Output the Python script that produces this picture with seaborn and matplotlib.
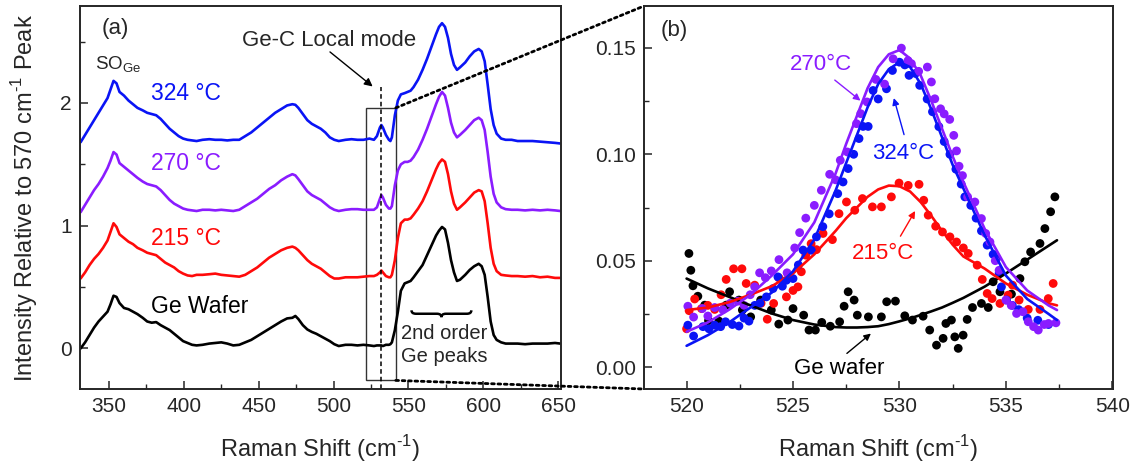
import matplotlib
matplotlib.use("Agg")
import matplotlib.pyplot as plt
import pandas as pd
import seaborn as sns
from matplotlib.patches import Rectangle, ConnectionPatch, PathPatch
from matplotlib.path import Path
from matplotlib.ticker import MultipleLocator, FormatStrFormatter

# ---------------- panel (a): full Raman spectra ----------------
shift_a = [331, 334, 337, 340, 343, 346, 349, 351, 353, 355,
           357, 360, 363, 366, 369, 372.5, 375.5, 378.5, 381.5, 384.5,
           387.5, 390.5, 393.5, 396.5, 399.5, 402.5, 405.5, 408.5, 412.5, 417,
           421, 425, 429, 433, 437, 441, 445, 449, 453, 457,
           461, 465, 469, 472.5, 474.5, 476.5, 479.5, 482.5, 485.5, 488.5,
           491.5, 494.5, 497.5, 500.5, 503.5, 508, 512, 516, 520, 524,
           527, 529, 531, 532, 533, 535, 537, 538, 539, 541,
           543, 545, 547.5, 549.5, 551.5, 553.5, 556.5, 559.5, 562.5, 565.5,
           568.5, 570.5, 572.5, 574.5, 576.5, 578.5, 580.5, 582.5, 584.5, 588,
           591, 594, 597, 599, 601, 603, 605, 607, 609, 612,
           615, 619, 623, 628, 633, 638, 643, 648, 651.5]

wafer_a = [0.00, 0.05, 0.11, 0.17, 0.22, 0.26, 0.30, 0.36, 0.43, 0.42,
           0.37, 0.33, 0.32, 0.30, 0.28, 0.25, 0.22, 0.21, 0.215, 0.19,
           0.17, 0.15, 0.12, 0.09, 0.06, 0.045, 0.03, 0.025, 0.03, 0.04,
           0.045, 0.05, 0.04, 0.025, 0.03, 0.05, 0.07, 0.10, 0.13, 0.16,
           0.19, 0.22, 0.245, 0.25, 0.265, 0.24, 0.19, 0.155, 0.135, 0.12,
           0.10, 0.08, 0.06, 0.035, 0.02, 0.03, 0.03, 0.025, 0.03, 0.025,
           0.02, 0.025, 0.025, 0.025, 0.02, 0.03, 0.03, 0.035, 0.05, 0.15,
           0.30, 0.47, 0.53, 0.54, 0.55, 0.58, 0.63, 0.68, 0.76, 0.84,
           0.92, 0.96, 0.99, 0.97, 0.86, 0.72, 0.62, 0.55, 0.56, 0.60,
           0.64, 0.67, 0.69, 0.67, 0.60, 0.42, 0.22, 0.11, 0.07, 0.05,
           0.04, 0.04, 0.04, 0.035, 0.04, 0.04, 0.04, 0.045, 0.04]

t215_a = [0.57, 0.62, 0.68, 0.73, 0.77, 0.82, 0.88, 0.95, 1.02, 0.99,
          0.93, 0.90, 0.87, 0.85, 0.82, 0.80, 0.78, 0.77, 0.76, 0.73,
          0.70, 0.68, 0.66, 0.63, 0.61, 0.595, 0.59, 0.60, 0.60, 0.605,
          0.61, 0.60, 0.595, 0.59, 0.585, 0.60, 0.63, 0.66, 0.70, 0.74,
          0.77, 0.80, 0.82, 0.83, 0.82, 0.80, 0.76, 0.72, 0.69, 0.67,
          0.65, 0.62, 0.59, 0.57, 0.57, 0.58, 0.58, 0.58, 0.585, 0.59,
          0.59, 0.60, 0.62, 0.635, 0.62, 0.59, 0.58, 0.58, 0.60, 0.72,
          0.90, 1.02, 1.05, 1.05, 1.06, 1.09, 1.14, 1.20, 1.28, 1.37,
          1.46, 1.51, 1.54, 1.52, 1.42, 1.28, 1.18, 1.13, 1.15, 1.19,
          1.23, 1.27, 1.29, 1.28, 1.20, 1.02, 0.82, 0.69, 0.63, 0.60,
          0.595, 0.59, 0.59, 0.585, 0.59, 0.58, 0.585, 0.575, 0.575]

t270_a = [1.11, 1.17, 1.23, 1.29, 1.34, 1.40, 1.47, 1.53, 1.60, 1.58,
          1.51, 1.48, 1.45, 1.42, 1.39, 1.36, 1.34, 1.33, 1.32, 1.29,
          1.25, 1.21, 1.18, 1.16, 1.14, 1.13, 1.125, 1.12, 1.13, 1.13,
          1.125, 1.13, 1.125, 1.12, 1.13, 1.16, 1.19, 1.22, 1.26, 1.30,
          1.33, 1.37, 1.40, 1.42, 1.41, 1.38, 1.33, 1.28, 1.25, 1.23,
          1.21, 1.18, 1.15, 1.13, 1.12, 1.13, 1.135, 1.135, 1.13, 1.13,
          1.13, 1.15, 1.22, 1.25, 1.23, 1.17, 1.14, 1.14, 1.16, 1.33,
          1.45, 1.50, 1.52, 1.52, 1.53, 1.56, 1.62, 1.70, 1.79, 1.89,
          1.99, 2.05, 2.09, 2.06, 1.96, 1.84, 1.76, 1.72, 1.74, 1.78,
          1.82, 1.86, 1.88, 1.86, 1.78, 1.60, 1.40, 1.26, 1.19, 1.15,
          1.135, 1.13, 1.13, 1.125, 1.13, 1.125, 1.13, 1.125, 1.12]

t324_a = [1.68, 1.74, 1.80, 1.86, 1.92, 1.98, 2.04, 2.11, 2.18, 2.16,
          2.09, 2.06, 2.02, 1.99, 1.96, 1.94, 1.92, 1.91, 1.90, 1.87,
          1.83, 1.79, 1.76, 1.73, 1.71, 1.70, 1.695, 1.69, 1.70, 1.705,
          1.70, 1.70, 1.695, 1.70, 1.70, 1.73, 1.76, 1.80, 1.84, 1.88,
          1.92, 1.95, 1.98, 1.99, 1.985, 1.96, 1.91, 1.86, 1.83, 1.81,
          1.79, 1.76, 1.72, 1.70, 1.69, 1.70, 1.705, 1.70, 1.70, 1.71,
          1.70, 1.73, 1.80, 1.82, 1.80, 1.74, 1.70, 1.69, 1.72, 1.90,
          2.02, 2.07, 2.08, 2.09, 2.10, 2.13, 2.19, 2.27, 2.36, 2.46,
          2.56, 2.62, 2.65, 2.62, 2.53, 2.40, 2.31, 2.27, 2.29, 2.33,
          2.38, 2.42, 2.44, 2.42, 2.34, 2.15, 1.95, 1.82, 1.75, 1.71,
          1.70, 1.70, 1.69, 1.69, 1.69, 1.685, 1.68, 1.675, 1.67]

# ---------------- panel (b): Ge-C local mode region ----------------
wafer_x = [520.11, 520.20, 520.30, 520.53, 520.85, 521.03, 521.52, 521.86, 522.02, 522.46,
           522.62, 523.01, 523.48, 523.98, 524.33, 524.76, 525.00, 525.50, 525.75, 526.05,
           526.35, 526.75, 527.19, 527.40, 527.59, 527.87, 528.02, 528.54, 529.15, 529.40,
           529.81, 530.25, 530.61, 531.11, 531.42, 531.74, 532.05, 532.18, 532.44, 532.60,
           532.76, 532.99, 533.18, 533.43, 533.85, 534.17, 534.40, 534.72, 535.26, 535.66,
           535.89, 536.16, 536.60, 536.83, 537.10, 537.30]
wafer_y = [0.0534, 0.0455, 0.0382, 0.0333, 0.0291, 0.0218, 0.0216, 0.0291, 0.0354, 0.0315,
           0.0268, 0.0236, 0.0315, 0.0268, 0.0202, 0.0221, 0.0275, 0.0244, 0.0174, 0.0174,
           0.0210, 0.0192, 0.0213, 0.0286, 0.0354, 0.0315, 0.0244, 0.0236, 0.0236, 0.0307,
           0.0310, 0.0241, 0.0221, 0.0239, 0.0174, 0.0103, 0.0135, 0.0205, 0.0221, 0.0142,
           0.0088, 0.0150, 0.0224, 0.0280, 0.0299, 0.0280, 0.0401, 0.0354, 0.0343, 0.0416,
           0.0495, 0.0541, 0.0581, 0.0651, 0.0730, 0.0800]

red_x = [520.00, 520.12, 520.38, 520.70, 521.00, 521.32, 521.62, 521.86, 522.21, 522.60,
         522.80, 523.20, 523.50, 523.79, 524.09, 524.34, 524.69, 525.00, 525.23, 525.39,
         525.60, 525.85, 526.10, 526.41, 526.85, 527.16, 527.51, 527.90, 528.26, 528.73,
         529.15, 529.62, 529.98, 530.41, 530.92, 531.14, 531.35, 531.70, 532.02, 532.37,
         532.68, 533.00, 533.23, 533.65, 533.89, 534.12, 534.35, 534.72, 535.10, 535.31,
         535.62, 536.05, 536.60, 536.99, 537.22]
red_y = [0.0180, 0.0265, 0.0320, 0.0275, 0.0290, 0.0271, 0.0340, 0.0412, 0.0462, 0.0462,
         0.0393, 0.0385, 0.0300, 0.0225, 0.0299, 0.0419, 0.0330, 0.0360, 0.0377, 0.0448,
         0.0526, 0.0580, 0.0552, 0.0628, 0.0599, 0.0721, 0.0776, 0.0737, 0.0792, 0.0753,
         0.0753, 0.0800, 0.0865, 0.0854, 0.0859, 0.0784, 0.0714, 0.0662, 0.0635, 0.0612,
         0.0588, 0.0560, 0.0534, 0.0479, 0.0412, 0.0346, 0.0322, 0.0299, 0.0338, 0.0385,
         0.0315, 0.0271, 0.0271, 0.0322, 0.0393]

violet_x = [520.06, 520.33, 520.74, 521.00, 521.32, 521.70, 522.05, 522.41, 522.70, 522.99,
            523.20, 523.43, 523.70, 523.98, 524.34, 524.72, 525.08, 525.31, 525.60, 526.00,
            526.33, 526.72, 527.00, 527.22, 527.55, 527.98, 528.18, 528.48, 528.89, 529.30,
            529.70, 530.09, 530.40, 530.56, 530.90, 531.31, 531.50, 531.66, 531.93, 532.10,
            532.36, 532.55, 532.68, 532.80, 532.96, 533.20, 533.54, 533.85, 534.05, 534.25,
            534.50, 534.68, 535.00, 535.25, 535.50, 535.80, 536.05, 536.30, 536.52, 536.80,
            537.00, 537.35]
violet_y = [0.0286, 0.0235, 0.0275, 0.0240, 0.0280, 0.0270, 0.0300, 0.0310, 0.0290, 0.0340,
            0.0377, 0.0443, 0.0420, 0.0452, 0.0505, 0.0443, 0.0560, 0.0632, 0.0700, 0.0760,
            0.0831, 0.0906, 0.0880, 0.0972, 0.1011, 0.1144, 0.1191, 0.1246, 0.1352, 0.1330,
            0.1449, 0.1499, 0.1440, 0.1426, 0.1390, 0.1410, 0.1340, 0.1261, 0.1214, 0.1190,
            0.1164, 0.1089, 0.1016, 0.0944, 0.0900, 0.0800, 0.0776, 0.0698, 0.0628, 0.0588,
            0.0500, 0.0455, 0.0315, 0.0290, 0.0252, 0.0260, 0.0213, 0.0190, 0.0174, 0.0200,
            0.0205, 0.0208]

blue_x = [520.06, 520.33, 520.77, 521.05, 521.32, 521.60, 521.83, 522.15, 522.46, 522.70,
          522.93, 523.20, 523.45, 523.75, 524.06, 524.29, 524.50, 524.69, 525.00, 525.25,
          525.47, 525.86, 526.10, 526.40, 526.70, 527.10, 527.35, 527.59, 527.85, 528.10,
          528.29, 528.53, 528.76, 529.00, 529.39, 529.67, 530.00, 530.25, 530.45, 530.75,
          530.95, 531.30, 531.55, 531.85, 532.10, 532.37, 532.65, 532.90, 533.07, 533.35,
          533.60, 533.85, 534.12, 534.40, 534.56, 534.68, 534.79, 535.03, 535.30, 535.60,
          536.00, 536.50, 537.00]
blue_y = [0.0197, 0.0146, 0.0190, 0.0180, 0.0197, 0.0190, 0.0213, 0.0200, 0.0193, 0.0230,
          0.0216, 0.0290, 0.0300, 0.0330, 0.0369, 0.0424, 0.0380, 0.0408, 0.0416, 0.0480,
          0.0550, 0.0549, 0.0612, 0.0660, 0.0720, 0.0815, 0.0870, 0.0933, 0.1000, 0.1074,
          0.1131, 0.1131, 0.1300, 0.1260, 0.1308, 0.1394, 0.1433, 0.1420, 0.1371, 0.1380,
          0.1324, 0.1260, 0.1200, 0.1130, 0.1060, 0.1000, 0.0930, 0.0860, 0.0800, 0.0760,
          0.0700, 0.0640, 0.0573, 0.0530, 0.0510, 0.0440, 0.0377, 0.0315, 0.0290, 0.0270,
          0.0230, 0.0220, 0.0200]

fit_x = [520, 521, 522, 523, 524, 525, 526, 527, 527.5, 528, 528.5, 529, 529.5,
         530, 530.5, 531, 531.5, 532, 532.5, 533, 534, 535, 536, 537, 537.4]
fit_wafer = [0.0416, 0.037, 0.033, 0.029, 0.0252, 0.0221, 0.0200, 0.0188, 0.0186, 0.0186,
             0.0188, 0.0192, 0.0202, 0.0215, 0.0229, 0.0245, 0.0262, 0.0280, 0.0302, 0.0325,
             0.0378, 0.0440, 0.0505, 0.0570, 0.0596]
fit_red = [0.0268, 0.028, 0.0305, 0.034, 0.038, 0.044, 0.053, 0.064, 0.070, 0.075,
           0.080, 0.0835, 0.0853, 0.0850, 0.0825, 0.0775, 0.071, 0.064, 0.0575, 0.052,
           0.0463, 0.0393, 0.034, 0.030, 0.029]
fit_violet = [0.0166, 0.021, 0.027, 0.034, 0.043, 0.053, 0.068, 0.091, 0.105, 0.118,
              0.131, 0.141, 0.147, 0.149, 0.145, 0.137, 0.125, 0.112, 0.099, 0.087,
              0.065, 0.047, 0.036, 0.029, 0.0268]
fit_blue = [0.0100, 0.0150, 0.021, 0.028, 0.035, 0.045, 0.060, 0.083, 0.096, 0.109,
            0.122, 0.133, 0.140, 0.1433, 0.141, 0.133, 0.121, 0.108, 0.095, 0.084,
            0.062, 0.043, 0.032, 0.025, 0.0221]

labels = ["Ge Wafer", "215 \u00b0C", "270 \u00b0C", "324 \u00b0C"]
colors = {"Ge Wafer": "#000000", "215 \u00b0C": "#ff0a0a",
          "270 \u00b0C": "#8a1cff", "324 \u00b0C": "#0a14f5"}

spectra = pd.concat([
    pd.DataFrame({"shift": shift_a, "intensity": ys, "sample": lab})
    for ys, lab in zip([wafer_a, t215_a, t270_a, t324_a], labels)
])
dots = pd.concat([
    pd.DataFrame({"shift": xs, "intensity": ys, "sample": lab})
    for xs, ys, lab in zip([wafer_x, red_x, blue_x, violet_x],
                           [wafer_y, red_y, blue_y, violet_y],
                           ["Ge Wafer", "215 \u00b0C", "324 \u00b0C", "270 \u00b0C"])
])
fits = pd.concat([
    pd.DataFrame({"shift": fit_x, "intensity": ys, "sample": lab})
    for ys, lab in zip([fit_wafer, fit_red, fit_blue, fit_violet],
                       ["Ge Wafer", "215 \u00b0C", "324 \u00b0C", "270 \u00b0C"])
])

sns.set_theme(style="ticks")
plt.rcParams["font.family"] = ["Liberation Sans", "DejaVu Sans"]
plt.rcParams["mathtext.fontset"] = "custom"
plt.rcParams["mathtext.rm"] = "Liberation Sans"
plt.rcParams["xtick.direction"] = "in"
plt.rcParams["ytick.direction"] = "in"

XLAB = "Raman Shift (cm$^{\\text{-1}}$)"
YLAB = "Intensity Relative to 570 cm$^{\\text{-1}}$ Peak"

fig = plt.figure(figsize=(11.3, 4.65), dpi=100)
ax1 = fig.add_axes([80 / 1130, 76 / 465, 481 / 1130, 383 / 465])
ax2 = fig.add_axes([644 / 1130, 76 / 465, 469 / 1130, 383 / 465])

# ----- panel (a) -----
sns.lineplot(data=spectra, x="shift", y="intensity", hue="sample", palette=colors,
             estimator=None, sort=False, lw=1.9, legend=False, ax=ax1)
ax1.set_xlim(330.6, 652)
ax1.set_ylim(-0.33, 2.79)
ax1.xaxis.set_major_locator(MultipleLocator(50))
ax1.xaxis.set_minor_locator(MultipleLocator(25))
ax1.yaxis.set_major_locator(MultipleLocator(1))
ax1.yaxis.set_minor_locator(MultipleLocator(0.5))
ax1.set_xlabel(XLAB, fontsize=17, labelpad=12)
ax1.set_ylabel(YLAB, fontsize=17, labelpad=14)

ax1.text(354.5, 2.61, "(a)", fontsize=16, ha="center", va="center")
ax1.text(356.3, 2.31, "SO$_{\\mathregular{Ge}}$", fontsize=13.5, ha="center", va="center")
ax1.text(401.4, 2.08, "324 \u00b0C", color=colors["324 \u00b0C"], fontsize=16.5, ha="center", va="center")
ax1.text(401.4, 1.51, "270 \u00b0C", color=colors["270 \u00b0C"], fontsize=16.5, ha="center", va="center")
ax1.text(401.4, 0.895, "215 \u00b0C", color=colors["215 \u00b0C"], fontsize=16.5, ha="center", va="center")
ax1.text(410.4, 0.343, "Ge Wafer", color="black", fontsize=16.5, ha="center", va="center")
ax1.text(496.9, 2.51, "Ge-C Local mode", fontsize=16, ha="center", va="center")
ax1.annotate("", xy=(527.6, 2.12), xytext=(496.2, 2.43),
             arrowprops=dict(arrowstyle="-|>", color="black", lw=1.0, mutation_scale=12))
ax1.plot([532, 532], [-0.33, 2.13], ls=(0, (3, 2)), color="black", lw=1.1)
ax1.add_patch(Rectangle((521.6, -0.26), 20.0, 2.22, fill=False, ec="#333333", lw=1.0))

# curly brace over the second-order peaks
bx0, bx1, by, bh = 552.1, 592.1, 0.283, 0.028
bm = 0.5 * (bx0 + bx1)
verts = [(bx0, by + bh), (bx0, by), (bx0 + 3, by),
         (bm - 3, by), (bm, by), (bm, by - bh),
         (bm, by), (bm + 3, by),
         (bx1 - 3, by), (bx1, by), (bx1, by + bh)]
codes = [Path.MOVETO, Path.CURVE3, Path.CURVE3,
         Path.LINETO, Path.CURVE3, Path.CURVE3,
         Path.CURVE3, Path.CURVE3,
         Path.LINETO, Path.CURVE3, Path.CURVE3]
ax1.add_patch(PathPatch(Path(verts, codes), fill=False, lw=1.8, ec="black"))
ax1.text(545.0, 0.12, "2nd order", fontsize=14.5, ha="left", va="center")
ax1.text(545.0, -0.065, "Ge peaks", fontsize=14.5, ha="left", va="center")

# ----- panel (b) -----
sns.scatterplot(data=dots, x="shift", y="intensity", hue="sample", palette=colors,
                s=40, linewidth=0, legend=False, ax=ax2, zorder=3)
sns.lineplot(data=fits, x="shift", y="intensity", hue="sample", palette=colors,
             estimator=None, sort=False, lw=1.9, legend=False, ax=ax2, zorder=4)
ax2.set_xlim(518, 540.03)
ax2.set_ylim(-0.0103, 0.1697)
ax2.xaxis.set_major_locator(MultipleLocator(5))
ax2.xaxis.set_minor_locator(MultipleLocator(2.5))
ax2.yaxis.set_major_locator(MultipleLocator(0.05))
ax2.yaxis.set_minor_locator(MultipleLocator(0.025))
ax2.yaxis.set_major_formatter(FormatStrFormatter("%.2f"))
ax2.set_xlabel(XLAB, fontsize=17, labelpad=12)
ax2.set_ylabel("")

ax2.text(519.4, 0.158, "(b)", fontsize=16, ha="center", va="center")
ax2.text(526.3, 0.142, "270\u00b0C", color=colors["270 \u00b0C"], fontsize=16, ha="center", va="center")
ax2.annotate("", xy=(528.27, 0.1244), xytext=(526.86, 0.1357),
             arrowprops=dict(arrowstyle="-|>", color=colors["270 \u00b0C"], lw=1.0, mutation_scale=10))
ax2.text(530.16, 0.1005, "324\u00b0C", color=colors["324 \u00b0C"], fontsize=16, ha="center", va="center")
ax2.annotate("", xy=(529.7, 0.1277), xytext=(530.25, 0.108),
             arrowprops=dict(arrowstyle="-|>", color=colors["324 \u00b0C"], lw=1.0, mutation_scale=10))
ax2.text(529.23, 0.0534, "215\u00b0C", color=colors["215 \u00b0C"], fontsize=16, ha="center", va="center")
ax2.annotate("", xy=(530.8, 0.0745), xytext=(529.98, 0.0604),
             arrowprops=dict(arrowstyle="-|>", color=colors["215 \u00b0C"], lw=1.0, mutation_scale=10))
ax2.text(527.19, -0.0006, "Ge wafer", color="black", fontsize=16, ha="center", va="center")
ax2.annotate("", xy=(528.76, 0.0166), xytext=(527.43, 0.0056),
             arrowprops=dict(arrowstyle="-|>", color="black", lw=1.0, mutation_scale=10))

for ax in (ax1, ax2):
    ax.tick_params(axis="both", which="major", length=6, width=1.1, labelsize=15,
                   top=False, right=False, pad=6)
    ax.tick_params(axis="both", which="minor", length=3.5, width=1.0,
                   top=False, right=False)
    for sp in ax.spines.values():
        sp.set_visible(True)
        sp.set_linewidth(1.4)

# dotted guides from the boxed region to the enlarged panel
for ya, yb in ((1.96, 1.0), (-0.26, 0.0)):
    con = ConnectionPatch(xyA=(541.6, ya), coordsA=ax1.transData,
                          xyB=(0.0, yb), coordsB=ax2.transAxes,
                          ls=(0, (1, 1.3)), lw=2.0, color="black")
    fig.add_artist(con)

fig.savefig("out.png", dpi=100)
